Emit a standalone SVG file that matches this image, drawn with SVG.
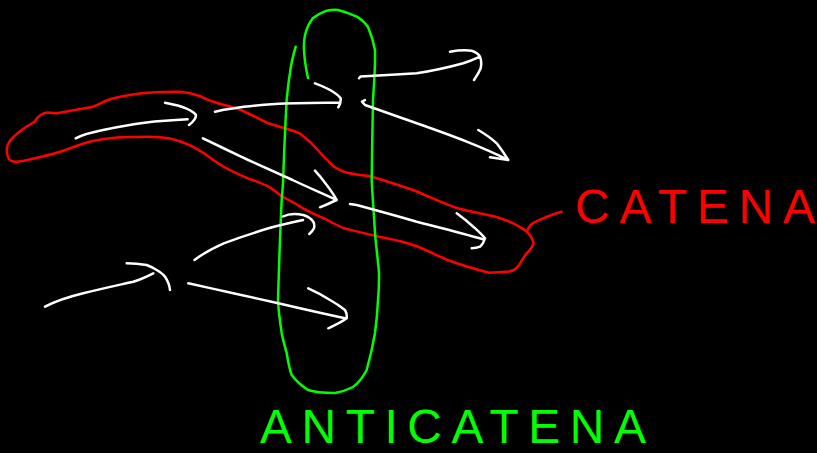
<svg xmlns="http://www.w3.org/2000/svg" width="817" height="453" viewBox="0 0 817 453">
<style>
.w{fill:none;stroke:#ffffff;stroke-width:2.5;stroke-linecap:round;stroke-linejoin:round}
.r{fill:none;stroke:#ff0000;stroke-width:2.5;stroke-linecap:round;stroke-linejoin:round}
.g{fill:none;stroke:#00ff00;stroke-width:2.5;stroke-linecap:round;stroke-linejoin:round}
.t{font-family:"Liberation Sans",Arial,sans-serif;font-size:48px}
</style>
<rect width="817" height="453" fill="#000000"/>
<g id="catena-loop">
<path class="r" d="M34.4,121.7 C38,116 41,113.3 47,112.5 L56.8,113.3 L93,106.7 C100,104 106,100 113.6,98.3 C125,95.5 136,93.5 148,92.7 C160,92 170,91.5 179,91.7 C187,92 193,93.5 199.7,96 C204,98 208,100 213.4,101.7 C222,104.5 232,107 241,110 C250,114 259,119 268.5,123.3 C279,127 290,129 299.5,133.3 C303,136 306,138.5 309.8,141.7 C317,149 323,156 330.5,163.3 C334,167 339,170 344,171.7 C353,174.5 362,175 371.8,176.7 C386,181 399,185 413,190 C428,196 442,203 457.8,208.3 C470,212 483,213.5 495.7,216.7 C503,219 510,221.5 516.4,225 C520,227 524,229 526.7,231.7 C530,235 533,239 533.6,243.3 C533,247 530,250 526.7,253.3 C523,258 520,264 516.4,268.3 C513,271 510,272 506,271.7 L488.8,272.7 C475,269 461,265 447.5,260 C436,255 425,249 413,245 C402,241 390,239 378.7,236.7 C367,234 355,231 344,228.3 C336,225 328,220 320,216.7 C314,214 308,211 303,208.3 C296,204 289,200 282,196.7 C277,193 273,189 268.5,186.7 C262,183 255,181 247.8,178.3 C240,175 231,171 223.8,166.7 C217,163 212,159 206.5,155 C202,151.5 197,149 192.8,146.7 C185,143 177,140 168.7,138.3 C162,137 155,136.7 148,136.7 L120.5,137.3 C110,138 99,139.5 89.5,141.7 C81,144 73,147 65.4,150 C57,153 49,155 41.3,156.7 C33,158.5 25,161 17.2,161.7 C13,162 10,161 8.6,158.3 C7,155 6.5,151.5 6.9,148.3 C7.5,144 10,140 13.8,136.7 C17,133.5 20.5,131 24,128.3 C27.5,126 31,124 34.4,121.7"/>
</g>
<g id="anticatena-loop">
<path class="g" d="M295.7,46.7 C293,56 291,64 290,73 C288.5,82 287.5,91 286.7,100 C285,128 284,156 283,183 L281.7,200 C280,234 279,267 278,300 C278.5,311 280,322 281.7,333 C283,340 285,347 286.7,353 C288,361 289,368 291.7,375 C296,381 302,386 308,390 C317,393 326,393 335,393 C341.5,392 347,390 353,387 C358.5,383 363,377 366.7,370 C370,358 373,345 375,333 C376.5,322 377.5,311 378,300 C379,291 379,282 379,273 C378,260 376,246 375,233 C374,215 372.5,198 371.7,180 C372,153 372.5,127 373,100 C374,83 375.5,66 375,50 C373.5,42 371,34 368,27 C364.5,22 361,19 356.7,16.7 C351,14 344.5,11.5 338,10 C334,9.5 330.5,10 326.7,10.7 C322,12.5 317,15 313,18 C309,23 306.5,29 305,35 C304,40 303.7,45 304,50 C304.5,60 306,69 308,78"/>
</g>
<g id="connectors">
<path id="arrow-a" class="w" d="M75.7,138.3 C84,134 93,132 103,130 C117,127 130,124.5 144.6,122.7 C159,121 173,120 187.6,119.3 M165,102.7 C172,104 180,105.5 186,108.3 C190,110 194,112 196,115 C196,119 193,122 189,125"/>
<path id="arrow-b" class="w" d="M215,111.7 C221,110 227,109 234,108.3 C248,106 261,105 275.4,104 C297,103 318,103 340,102.7 M315,83.3 C321,85.5 328,88.5 333,91.7 C336,93.5 339,96 340.7,98.3 C341,101.5 340,104.5 338.3,107.3"/>
<path id="arrow-c" class="w" d="M359,78.3 L360.5,76.5 C379,75.5 398,74.5 416.7,73.3 C432,71 448,67.5 463.3,63.3 C469,61.5 475,59 480,56.7 M450,51.7 C457,50.5 465,50 471.7,50.7 C475.5,52 478.5,54 480,56.7 C481.5,60.5 481.5,64.5 480.7,68.3 C479,72.5 476.5,76.5 474,80"/>
<path id="arrow-d" class="w" d="M365,100 L362,101.7 L365,105 C382,111 399,117 416.7,123.3 C433,129 450,135 466.7,141.7 C480,147 494,153 508.3,160 M478.3,130 C485,134 491.5,138.5 496.7,143.3 C499.5,147 502.5,151 505,155 L508.3,160 L490,157.3"/>
<path id="arrow-e" class="w" d="M203,138.3 C216,144.5 228,150.5 241,156.7 C258,164.5 275,172 292.6,180 C307,187 322,193 336.7,200 M315,170.7 C319,175 323,180 326.7,185 C330.5,190 334,195 336.7,200 C331.5,202.5 325.5,205 320,207.3"/>
<path id="arrow-f" class="w" d="M350,204 L356.7,205 C377,210.5 397,216 416.7,221.7 C439,227.5 461,233 483.3,239.3 M456.7,213.3 C462.5,217.5 468,222 473.3,226.7 C477.5,230.5 481.5,234 485,238.3 C484,241.5 482.5,244.5 480,246.7 C477.5,247.8 474.5,248.3 471.7,248.3"/>
<path id="arrow-g" class="w" d="M194.5,260 C203,253.5 213,248 223.8,243.3 C238,238 253,233 268.5,228.3 C280,225 291.5,222.5 303,220 M283,216.5 C288,214 295.5,213.5 303.3,215 C308,216.5 311.5,219 313.3,221.7 C314.5,224 314.5,226 314,228.3 C313,230.5 311,232.5 309.3,234"/>
<path id="arrow-h" class="w" d="M45,306.7 C57,300.5 70,296.5 83.3,293.3 C100,289 116.5,285.5 133.3,281.7 C140.5,279.5 147,276.5 153.3,273.3 M126.7,263.3 C133.5,263.3 140.5,264 146.7,265 C150.5,266.5 153.5,268 156.7,270 C160,272 163,274 165,276.7 C168,281 169.5,285.5 170,290"/>
<path id="arrow-i" class="w" d="M188.3,283.3 C203,286.5 218.5,290 233.3,293.3 C248,296.5 263.5,300 278.3,303.3 C300.5,308.5 322.5,313.5 345,318.3 M308.3,288.3 C315.5,291.5 323,295.5 330,300 C335.5,303 340.5,306.5 345,310 C346.5,312.5 347,315.5 346.7,318.3 C341,322.5 334.5,325.5 328.3,328.3"/>
<path id="catena-pointer" class="r" d="M527,231 C528.5,227.5 530,225 533,223 C542,218.5 551.5,214.5 561.7,211.7"/>
</g>
<g id="label-catena">
<text class="t" x="575" y="223" fill="#ff0000" textLength="240" lengthAdjust="spacing">CATENA</text>
</g>
<g id="label-anticatena">
<text class="t" x="260" y="443" fill="#00ff00" textLength="386" lengthAdjust="spacing">ANTICATENA</text>
</g>
</svg>
